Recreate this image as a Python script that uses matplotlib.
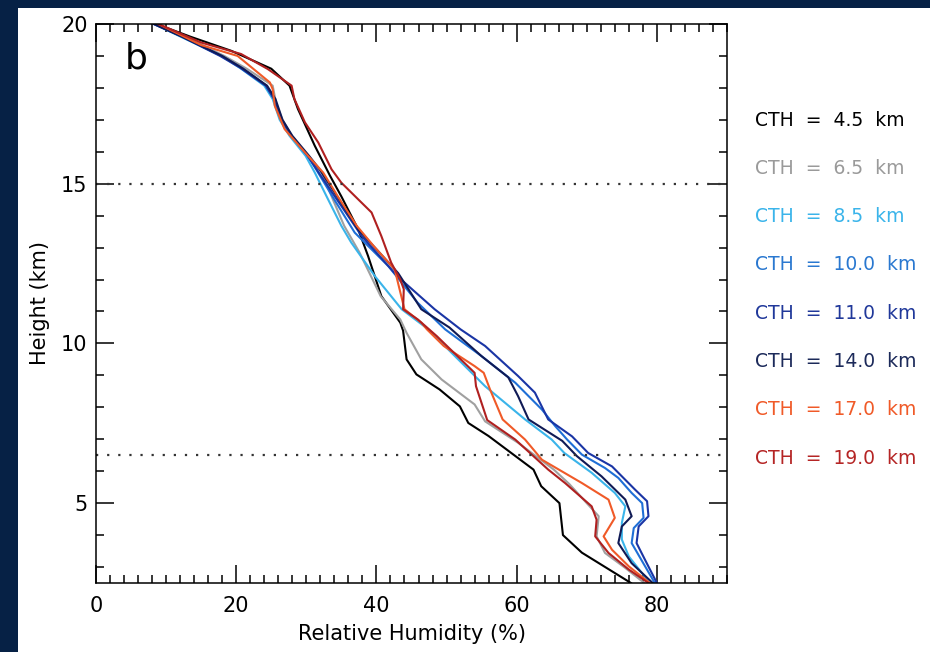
import numpy as np
import matplotlib
matplotlib.use('Agg')
import matplotlib.pyplot as plt
from matplotlib.ticker import MultipleLocator

plt.rcParams['font.family'] = 'DejaVu Sans'

# Relative humidity profiles (height km, RH %) per cloud-top height class
h_45 = [20.0, 19.6, 19.16, 18.6, 18.07, 17.34, 16.19, 15.24, 14.6, 13.57, 12.74, 11.48,
        10.65, 10.4, 9.5, 9.03, 8.56, 8.03, 7.51, 7.1, 6.05, 5.53, 5.0, 4.0, 3.45, 2.5]
rh_45 = [8.6, 13.5, 19.3, 25.0, 27.6, 28.8, 31.2, 33.4, 35.0, 37.4, 38.8, 40.7,
         43.4, 43.8, 44.3, 45.7, 49.0, 51.9, 53.1, 56.0, 62.4, 63.5, 66.1, 66.6, 69.3, 76.3]

h_65 = [20.0, 19.6, 19.0, 18.6, 18.07, 17.5, 17.0, 16.5, 15.9, 15.35, 14.5, 13.68, 12.84,
        11.48, 10.75, 10.33, 9.5, 8.87, 8.09, 7.56, 6.89, 6.05, 5.6, 4.59, 3.96, 3.44, 2.97, 2.5]
rh_65 = [8.4, 12.8, 18.3, 21.5, 25.2, 25.7, 26.6, 27.9, 30.0, 32.2, 33.8, 35.4, 37.6,
         40.6, 43.4, 44.3, 46.4, 49.3, 54.0, 55.5, 60.2, 65.3, 67.5, 71.7, 71.4, 72.6, 75.5, 78.2]

h_85 = [20.0, 19.6, 19.0, 18.6, 18.07, 17.65, 17.0, 16.5, 15.87, 15.35, 14.51, 13.68, 13.16,
        12.1, 11.07, 10.44, 9.71, 8.66, 7.62, 6.99, 6.57, 5.95, 5.32, 4.9, 4.38, 3.86, 3.33, 2.5]
rh_85 = [8.3, 12.1, 17.9, 20.7, 24.0, 25.2, 26.2, 27.6, 29.9, 31.2, 33.1, 35.0, 36.4,
         39.8, 43.6, 47.4, 50.7, 55.5, 61.2, 65.0, 66.8, 70.7, 74.0, 75.5, 75.0, 75.0, 76.0, 79.0]

h_100 = [20.0, 19.63, 19.0, 18.64, 18.07, 17.65, 17.02, 16.5, 15.87, 15.45, 14.5, 13.47, 12.42,
         11.27, 10.44, 9.6, 8.77, 7.93, 7.41, 6.99, 6.52, 6.1, 5.79, 5.32, 5.0, 4.54, 4.22,
         3.75, 3.18, 2.5]
rh_100 = [8.3, 12.1, 17.9, 20.7, 24.3, 25.5, 26.4, 27.9, 30.2, 31.4, 34.0, 36.9, 41.7,
          45.9, 49.8, 55.0, 59.8, 63.6, 65.5, 67.2, 69.3, 72.6, 74.5, 76.4, 77.9, 78.1, 76.7,
          76.4, 77.9, 79.7]

h_110 = [20.0, 19.63, 19.0, 18.64, 18.07, 17.65, 17.02, 16.5, 15.87, 15.24, 14.3, 13.36, 12.1,
         11.07, 10.44, 9.92, 8.98, 8.46, 7.62, 7.09, 6.57, 6.15, 5.84, 5.42, 5.06, 4.59, 4.27,
         3.75, 3.23, 2.5]
rh_110 = [8.2, 12.0, 17.7, 20.5, 24.2, 25.4, 26.4, 27.9, 30.2, 32.1, 35.0, 37.9, 43.0,
          48.3, 52.0, 55.5, 60.2, 62.6, 64.5, 67.9, 70.2, 73.6, 75.0, 76.9, 78.6, 78.8, 77.4,
          77.1, 78.3, 80.0]

h_140 = [20.0, 19.6, 19.0, 18.6, 18.07, 17.65, 17.0, 16.5, 15.87, 15.45, 14.5, 13.57, 12.2,
         11.07, 10.5, 9.6, 8.94, 8.35, 7.62, 6.95, 6.47, 5.84, 5.11, 4.59, 4.27, 3.75, 3.12, 2.5]
rh_140 = [8.3, 12.3, 18.0, 21.0, 24.4, 25.6, 26.6, 28.0, 30.4, 31.9, 34.7, 37.4, 43.1,
          46.4, 50.4, 55.0, 58.8, 60.2, 61.7, 66.5, 68.6, 72.1, 75.5, 76.4, 75.0, 74.5, 76.4, 79.4]

h_170 = [20.0, 19.34, 19.0, 18.17, 17.96, 17.44, 16.71, 15.98, 15.35, 14.6, 13.68, 13.05, 12.32,
         11.07, 10.65, 10.44, 9.92, 9.29, 9.08, 8.56, 7.62, 6.99, 6.36, 5.63, 5.11, 4.54, 3.96,
         3.54, 3.02, 2.5]
rh_170 = [8.9, 15.0, 20.2, 24.8, 25.2, 25.5, 26.9, 29.8, 32.4, 34.5, 37.2, 39.6, 42.6,
          44.0, 46.4, 47.2, 49.6, 54.0, 55.3, 56.2, 58.0, 61.2, 63.6, 69.3, 73.1, 74.0, 72.4,
          73.6, 76.0, 79.0]

h_190 = [20.0, 19.42, 19.06, 18.59, 18.07, 17.65, 16.92, 16.29, 15.45, 15.03, 14.51, 14.1, 13.36,
         12.53, 12.0, 11.7, 11.07, 10.75, 10.23, 9.08, 8.66, 7.6, 6.99, 6.05, 5.63, 4.9, 4.48,
         3.96, 3.44, 2.92, 2.5]
rh_190 = [8.9, 15.0, 20.7, 24.5, 27.9, 28.3, 29.8, 31.7, 33.6, 35.0, 37.4, 39.3, 40.7,
          42.1, 43.4, 43.9, 43.8, 45.9, 48.6, 54.0, 54.2, 55.8, 59.8, 64.5, 66.9, 70.7, 71.4,
          71.2, 73.1, 76.0, 78.8]

labels = ['CTH = 4.5 km', 'CTH = 6.5 km', 'CTH = 8.5 km', 'CTH = 10.0 km',
          'CTH = 11.0 km', 'CTH = 14.0 km', 'CTH = 17.0 km', 'CTH = 19.0 km']
line_colors = ['#000000', '#a0a0a0', '#3ab4ea', '#1f6fd6',
               '#1a35a5', '#101a55', '#f05a28', '#b02020']
text_colors = ['#000000', '#9a9a9a', '#3ab4ea', '#2a78d0',
               '#20389a', '#1c2a5a', '#f05a28', '#b52525']
profiles = [(rh_45, h_45), (rh_65, h_65), (rh_85, h_85), (rh_100, h_100),
            (rh_110, h_110), (rh_140, h_140), (rh_170, h_170), (rh_190, h_190)]
ref_levels = [15.0, 6.5]

fig = plt.figure(figsize=(9.30, 6.52), dpi=100)
fig.patch.set_facecolor('#062145')

# white panel on the dark slide background
bg = fig.add_axes([18 / 930, 0, 1 - 18 / 930, 1 - 8 / 652])
bg.set_facecolor('white')
bg.set_xticks([])
bg.set_yticks([])
for sp in bg.spines.values():
    sp.set_visible(False)

ax = fig.add_axes([96 / 930, 1 - 583 / 652, (727 - 96) / 930, (583 - 24) / 652])

for (rh, h), c in zip(profiles, line_colors):
    ax.plot(rh, h, color=c, lw=1.5)

for lev in ref_levels:
    ax.axhline(lev, color='#333333', lw=1.6, ls=(0, (1, 4)))

ax.set_xlim(0, 90)
ax.set_ylim(2.5, 20)
ax.xaxis.set_major_locator(MultipleLocator(20))
ax.xaxis.set_minor_locator(MultipleLocator(2))
ax.yaxis.set_major_locator(MultipleLocator(5))
ax.yaxis.set_minor_locator(MultipleLocator(1))
ax.tick_params(which='both', direction='in', top=True, right=True, width=1.1, labelsize=15)
ax.tick_params(which='major', length=13)
ax.tick_params(axis='x', which='major', pad=9)
ax.tick_params(axis='y', which='major', pad=6)
ax.tick_params(which='minor', length=6)
for sp in ax.spines.values():
    sp.set_linewidth(1.1)

ax.set_xlabel('Relative Humidity (%)', fontsize=15, labelpad=6)
ax.set_ylabel('Height (km)', fontsize=15, labelpad=8)
ax.text(0.045, 0.968, 'b', transform=ax.transAxes, fontsize=26, va='top', ha='left')

for i, (lab, c) in enumerate(zip(labels, text_colors)):
    fig.text(755 / 930, 1 - (120 + i * 48.3) / 652, lab.replace(' ', '  '), color=c,
             fontsize=13.5, va='center', ha='left')

fig.savefig('out.png', dpi=100, facecolor=fig.get_facecolor())
